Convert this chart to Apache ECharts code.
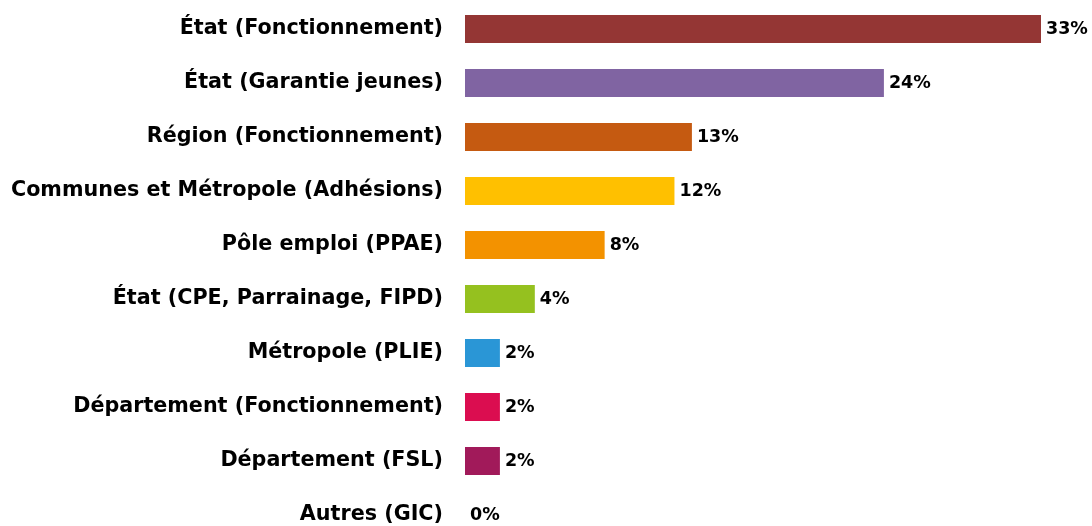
<!DOCTYPE html>
<html>
<head>
<meta charset="utf-8">
<script src="https://cdn.jsdelivr.net/npm/echarts@6/dist/echarts.min.js"></script>
<style>
    html, body { margin: 0; padding: 0; background: #fff; }
    #chart { width: 1092px; height: 526px; }
</style>
</head>
<body>
<div id="chart"></div>
<script>
// categories, top to bottom
var categories = [
    'État (Fonctionnement)',
    'État (Garantie jeunes)',
    'Région (Fonctionnement)',
    'Communes et Métropole (Adhésions)',
    'Pôle emploi (PPAE)',
    'État (CPE, Parrainage, FIPD)',
    'Métropole (PLIE)',
    'Département (Fonctionnement)',
    'Département (FSL)',
    'Autres (GIC)'
];
var values = [33, 24, 13, 12, 8, 4, 2, 2, 2, 0];
var colors = ['#943634', '#8064A2', '#C55A11', '#FFC000', '#F39200', '#95C11F', '#2A96D6', '#DB0D50', '#A11A5A', '#888888'];

var fontName = 'DejaVu Sans';

var myChart = echarts.init(document.getElementById('chart'));
myChart.setOption({
    animation: false,
    grid: {
        left: 465,
        right: 51,
        top: 2,
        bottom: -16,
        outerBoundsMode: 'none'
    },
    xAxis: {
        type: 'value',
        min: 0,
        max: 33,
        show: false
    },
    yAxis: {
        type: 'category',
        inverse: true,
        data: categories,
        axisLine: { show: false },
        axisTick: { show: false },
        axisLabel: {
            margin: 22,
            color: '#000',
            fontFamily: fontName,
            fontWeight: 'bold',
            fontSize: 20.7
        }
    },
    series: [{
        type: 'bar',
        barWidth: 28,
        data: values.map(function (v, i) {
            return { value: v, itemStyle: { color: colors[i] } };
        }),
        label: {
            show: true,
            position: 'right',
            distance: 5,
            formatter: '{c}%',
            color: '#000',
            fontFamily: fontName,
            fontWeight: 'bold',
            fontSize: 17.5
        }
    }]
});
</script>
</body>
</html>
